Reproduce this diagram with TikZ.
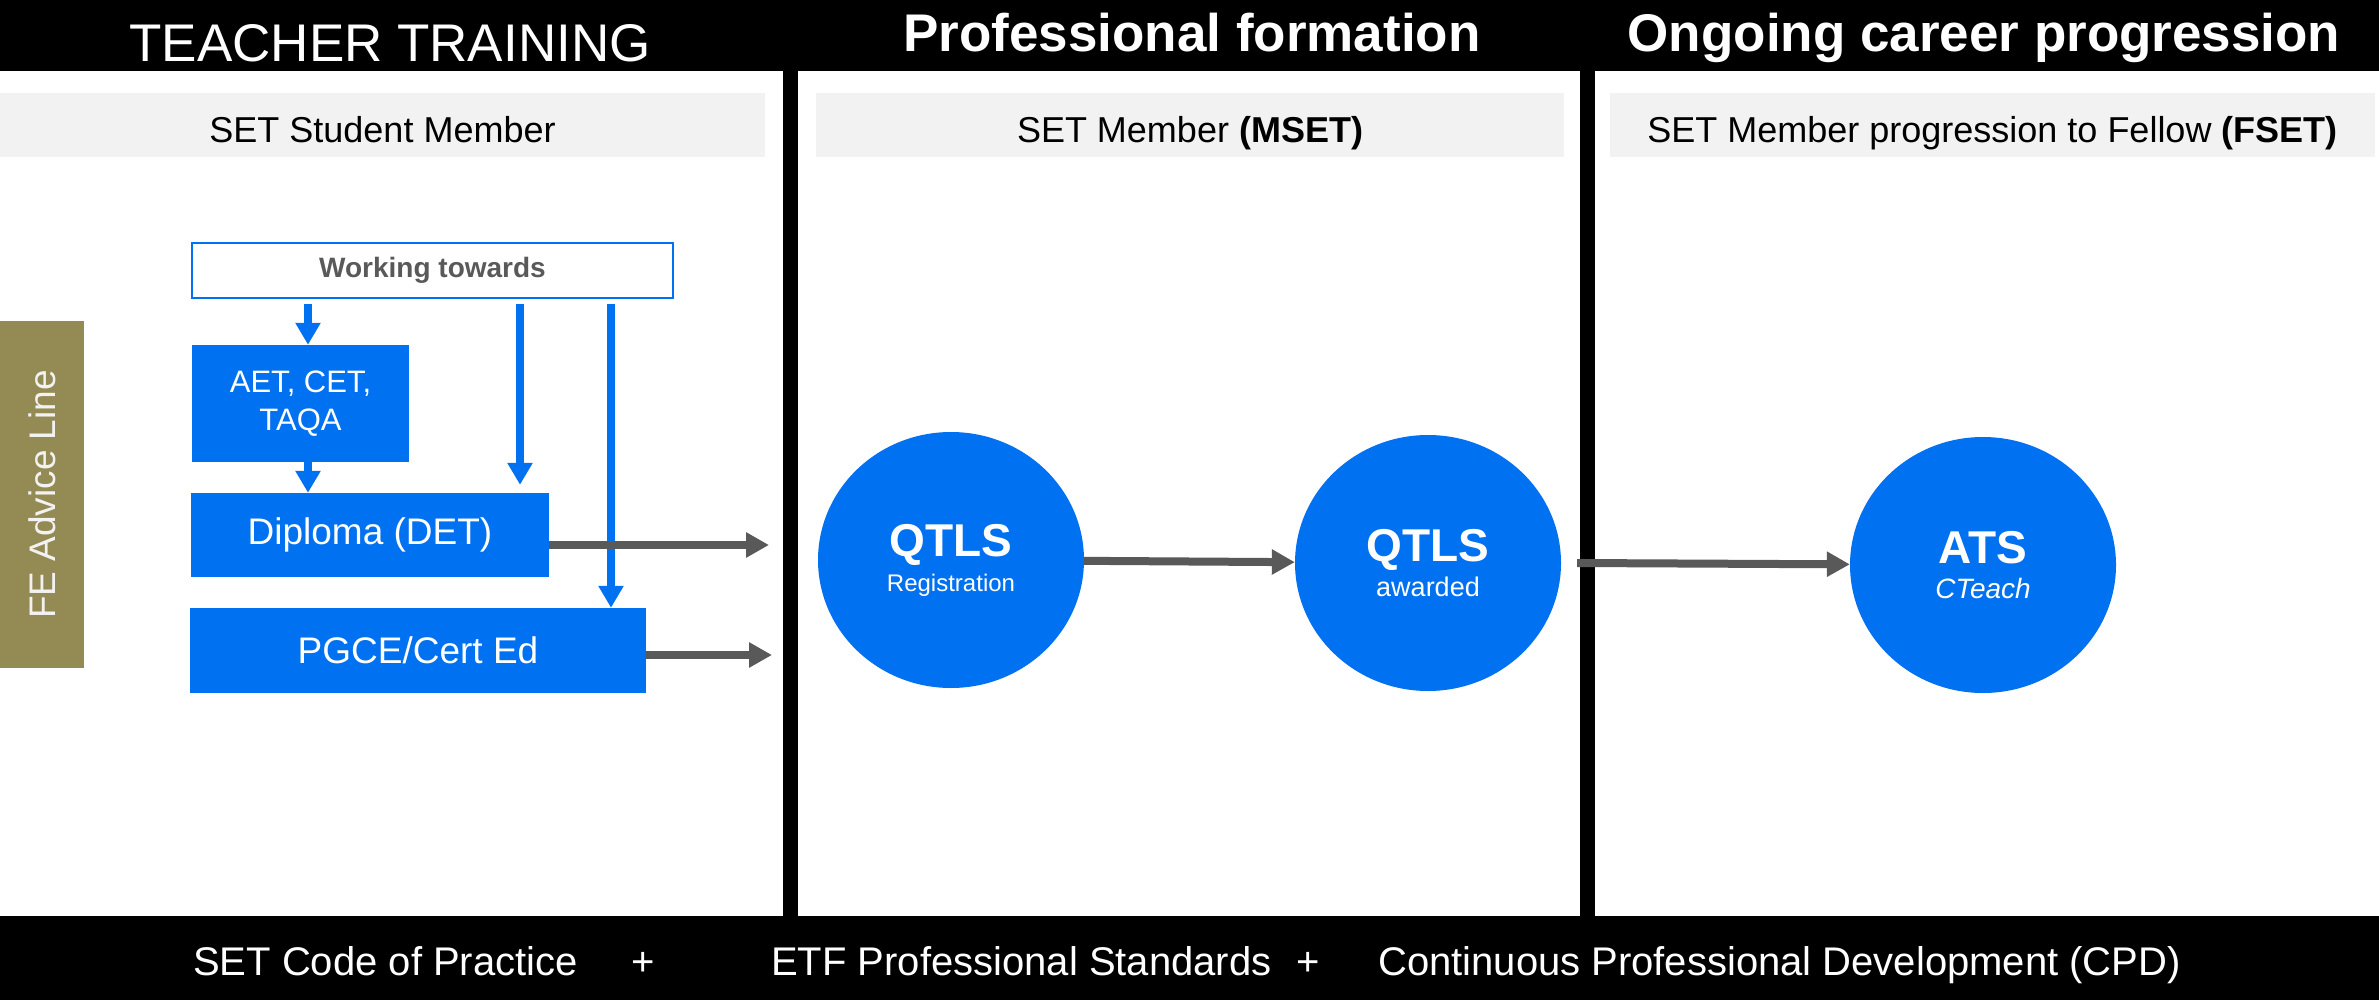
\documentclass[tikz,border=0pt]{standalone}
\usepackage{fontspec}
\setmainfont{Liberation Sans}
\usetikzlibrary{arrows.meta,shapes.geometric}

\definecolor{setblue}{RGB}{0,113,240}
\definecolor{adviceolive}{HTML}{948A54}
\definecolor{arrowgrey}{HTML}{595959}
\definecolor{bandgrey}{HTML}{F2F2F2}

\tikzset{
	head/.style={text=white, inner sep=0pt, anchor=base, font=\fontsize{53}{60}\selectfont},
	headb/.style={head, font=\bfseries\fontsize{53}{60}\selectfont},
	band/.style={fill=bandgrey, inner sep=0pt, minimum height=64pt, text height=36pt, text depth=0pt, font=\fontsize{36}{43}\selectfont},
	box/.style={fill=setblue, text=white, inner sep=0pt, align=center},
	stage/.style={ellipse, fill=setblue, text=white, inner sep=0pt, minimum width=266pt, minimum height=256pt, align=center, font=\fontsize{24}{35}\selectfont},
	blue arrow/.style={setblue, line width=8pt, -{Triangle[length=22pt,width=24pt]}},
	grey arrow/.style={arrowgrey, line width=8pt, -{Triangle[length=23pt,width=24pt]}},
	foot/.style={text=white, inner sep=0pt, anchor=base west, font=\fontsize{40}{48}\selectfont}
}

\begin{document}
\begin{tikzpicture}[x=1pt,y=-1pt]
				\fill[white] (0,0) rectangle (2379,1000);
				\fill[black] (0,0) rectangle (2379,71);
				\fill[black] (0,916) rectangle (2379,1000);
				\fill[black] (783,71) rectangle (798,916);
				\fill[black] (1580,71) rectangle (1595,916);
				\node[head] (train) at (390,62) {TEACHER TRAINING};
				\node[headb] (form) at (1192,52) {Professional formation};
				\node[headb] (prog) at (1984,52) {Ongoing career progression};
				\node[band, minimum width=765pt] (stu) at (382.5,125) {SET Student Member};
				\node[band, minimum width=748pt] (mem) at (1190,125) {SET Member \textbf{(MSET)}};
				\node[band, minimum width=765pt] (fel) at (1992.5,125) {SET Member progression to Fellow \textbf{(FSET)}};
				\node[fill=adviceolive, text=bandgrey, rotate=90, inner sep=0pt, minimum width=347pt, minimum height=84pt, font=\fontsize{37}{44}\selectfont] (fe) at (42,494.5) {FE Advice Line};
				\node[draw=setblue, line width=2.5pt, fill=white, text=arrowgrey, inner sep=0pt, minimum width=481pt, minimum height=55pt, font=\bfseries\fontsize{28}{34}\selectfont] (wt) at (432.5,270.5) {Working towards};
				\node[box, minimum width=217pt, minimum height=117pt, font=\fontsize{31}{38}\selectfont] (aet) at (300.5,403.5) {AET, CET,\\TAQA};
				\node[box, minimum width=358pt, minimum height=84pt, font=\fontsize{37}{44}\selectfont] (dip) at (370,535) {Diploma (DET)};
				\node[box, minimum width=456pt, minimum height=85pt, font=\fontsize{37}{44}\selectfont] (pgce) at (418,650.5) {PGCE/Cert Ed};
				\coordinate (xa) at (308,0);
				\coordinate (xc) at (520,0);
				\coordinate (xd) at (611,0);
				\draw[blue arrow, shorten <=5pt] (wt.south -| xa) -- (aet.north -| xa);
				\draw[blue arrow] (aet.south -| xa) -- (dip.north -| xa);
				\draw[blue arrow, shorten <=5pt, shorten >=8pt] (wt.south -| xc) -- (dip.north -| xc);
				\draw[blue arrow, shorten <=5pt] (wt.south -| xd) -- (pgce.north -| xd);
				\coordinate (in1) at (769,545);
				\coordinate (in2) at (772,655);
				\draw[grey arrow] (dip.east |- in1) -- (in1);
				\draw[grey arrow] (pgce.east |- in2) -- (in2);
				\node[stage] (reg) at (951,560) {{\fontsize{46}{35}\selectfont\bfseries QTLS}\\Registration};
				\node[stage] (awd) at (1428,563) {{\fontsize{46}{35}\selectfont\bfseries QTLS}\\{\fontsize{27}{35}\selectfont awarded}};
				\node[stage] (ats) at (1983,565) {{\fontsize{46}{35}\selectfont\bfseries ATS}\\{\fontsize{28}{35}\selectfont\itshape CTeach}};
				\coordinate (gate) at (1577,563);
				\draw[grey arrow] (reg) -- (awd);
				\draw[grey arrow] (gate) -- (ats);
				\node[foot] (code) at (193,975) {SET Code of Practice};
				\node[foot, anchor=base] (plus1) at (643,975) {+};
				\node[foot] (etf) at (771,975) {ETF Professional Standards};
				\node[foot, anchor=base] (plus2) at (1308,975) {+};
				\node[foot] (cpd) at (1378,975) {Continuous Professional Development (CPD)};
			\end{tikzpicture}
\end{document}
